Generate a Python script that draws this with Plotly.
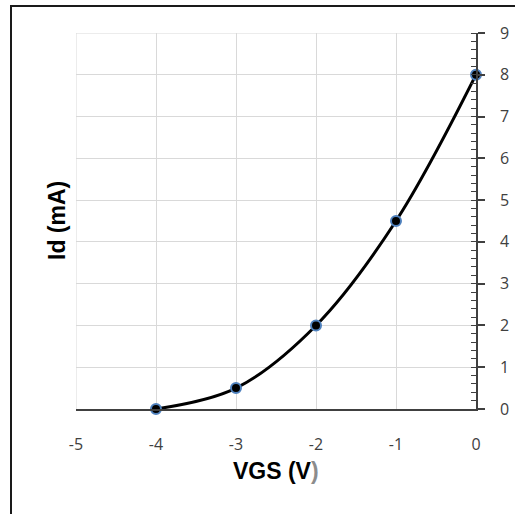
import plotly.graph_objects as go

vgs = [-4, -3, -2, -1, 0]
id_ma = [0, 0.5, 2, 4.5, 8]
x_ticks = [-5, -4, -3, -2, -1, 0]
y_ticks = list(range(0, 10))

fig = go.Figure()
fig.add_trace(go.Scatter(
    x=vgs, y=id_ma, mode="lines+markers",
    line=dict(color="black", width=3, shape="spline", smoothing=1),
    marker=dict(color="black", size=10, line=dict(color="#4F81BD", width=2)),
    showlegend=False, cliponaxis=False,
))

grid = "#d9d9d9"
fig.update_layout(
    width=515, height=514,
    margin=dict(l=76, r=39, t=33, b=105),
    paper_bgcolor="white", plot_bgcolor="white",
    font=dict(family="Open Sans", size=16, color="#404040"),
    xaxis=dict(
        range=[-5, 0], tickvals=x_ticks, ticktext=[str(v) for v in x_ticks],
        showgrid=True, gridcolor=grid, gridwidth=1, automargin=False,
        zeroline=False, showline=True, linecolor="#404040", linewidth=1.5,
        ticks="", ticklabelstandoff=20, anchor="y", position=0,
    ),
    yaxis=dict(
        range=[0, 9], tickvals=y_ticks, ticktext=[str(v) for v in y_ticks],
        side="right", showgrid=True, gridcolor=grid, gridwidth=1, automargin=False,
        zeroline=False, showline=True, linecolor="#404040", linewidth=1.5,
        ticks="outside", ticklen=7, tickcolor="#404040", tickwidth=1.5,
        ticklabelstandoff=12,
        minor=dict(dtick=0.2, ticks="inside", ticklen=5, tickcolor="#404040", tickwidth=1, showgrid=False),
    ),
    shapes=[
        dict(type="rect", xref="paper", yref="paper", ysizemode="pixel", yanchor=1,
             x0=-0.165, x1=1.2, y0=26, y1=28,
             line=dict(width=0), fillcolor="#1a1a1a", layer="above"),
        dict(type="rect", xref="paper", yref="paper", xsizemode="pixel", xanchor=0,
             x0=-66, x1=-64, y0=-0.4, y1=1.0745,
             line=dict(width=0), fillcolor="#1a1a1a", layer="above"),
        dict(type="line", xref="x", yref="y", x0=x_ticks[0], x1=x_ticks[0], y0=y_ticks[0], y1=y_ticks[-1],
             line=dict(color=grid, width=1), layer="below"),
        dict(type="line", xref="x", yref="y", x0=x_ticks[0], x1=x_ticks[-1], y0=y_ticks[-1], y1=y_ticks[-1],
             line=dict(color=grid, width=1), layer="below"),
    ],
    annotations=[
        dict(text="<b>Id (mA)</b>", xref="paper", yref="paper", x=-0.0475, y=0.5,
             textangle=-90, showarrow=False, xanchor="center", yanchor="middle",
             font=dict(family="Liberation Sans", size=23, color="black")),
        dict(text="<b>VGS (V<span style='color:#8c8c8c'>)</span></b>", xref="paper", yref="paper",
             x=0.5, y=-0.165, showarrow=False, xanchor="center", yanchor="middle",
             font=dict(family="Liberation Sans", size=23, color="black")),
    ],
)

post = (
    "document.body.style.margin='0';document.body.style.overflow='hidden';"
    "var b=document.createElement('div');"
    "b.style.cssText='position:fixed;left:10px;top:5px;width:600px;height:2px;background:#1a1a1a;z-index:1000;pointer-events:none';"
    "document.body.appendChild(b);"
)
fig.write_html("out.html", config={"displayModeBar": False}, post_script=post)
